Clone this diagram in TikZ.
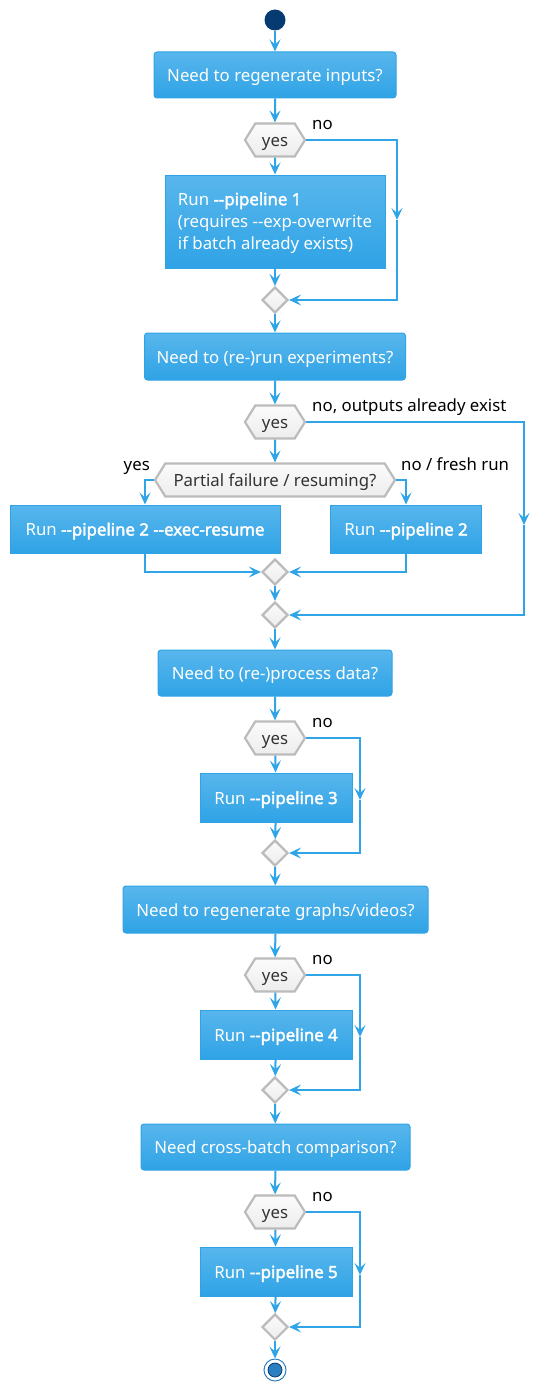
\documentclass[tikz,border=0pt]{standalone}
\usepackage{fontspec}
\setmainfont{Noto Sans}[Ligatures=TeXOff, AutoFakeBold=2.2]
\usetikzlibrary{arrows.meta,shapes.geometric,shapes.symbols}

\definecolor{flowblue}{HTML}{2FA4E7}
\definecolor{boxtop}{HTML}{58B6EC}
\definecolor{boxbot}{HTML}{2FA3E6}
\definecolor{hexline}{HTML}{BBBBBB}
\definecolor{hextop}{HTML}{FBFBFB}
\definecolor{hexbot}{HTML}{EDEDED}
\definecolor{startblue}{HTML}{053B70}
\definecolor{endblue}{HTML}{2C80C2}

\tikzset{
  flow/.style={draw=flowblue, line width=2pt, -{Stealth[length=12pt,width=11pt,inset=5pt]}},
  action/.style={draw=boxbot, line width=1pt, top color=boxtop, bottom color=boxbot,
    rounded corners=3pt, text=white, minimum height=46pt, inner sep=0pt,
    text height=13pt, text depth=0pt},
  runbox/.style={action, sharp corners},
  yesno/.style={signal, signal to=west and east, signal pointer angle=116,
    draw=hexline, line width=2.2pt, top color=hextop, bottom color=hexbot,
    text=black!80, minimum width=60pt, minimum height=33pt, inner sep=0pt,
    text height=13pt, text depth=0pt},
  merge/.style={diamond, draw=hexline, line width=2.2pt, top color=hextop,
    bottom color=hexbot, minimum size=26pt, inner sep=0pt},
  lbl/.style={text=black, inner sep=0pt},
}

\begin{document}
\begin{tikzpicture}[x=1pt, y=-1pt, font=\fontsize{16.8}{22}\selectfont]
    \useasboundingbox (0,0) rectangle (550,1394);

    % start
    \node[circle, fill=startblue, minimum size=21pt, inner sep=0pt] (start) at (275,20) {};

    % inputs
    \node[action, minimum width=242pt] (qin) at (275,75) {Need to regenerate inputs?};
    \node[yesno] (hin) at (275,140) {yes};
    \node[draw=boxbot, line width=1pt, top color=boxtop, bottom color=boxbot, text=white,
        inner sep=0pt, minimum width=220pt, minimum height=93pt, align=left] (run1) at (275,221.5)
        {\strut Run \textbf{--pipeline 1}\\(requires --exp-overwrite\\if batch already exists)};
    \node[merge] (m1) at (275,300) {};
    \coordinate (n1) at (397,220);
    \node[lbl, anchor=base west] (no1) at (312,129) {no};

    \draw[flow] (start) -- (qin);
    \draw[flow] (qin) -- (hin);
    \draw[flow] (hin) -- (run1);
    \draw[flow] (run1) -- (m1);
    \draw[flow] (hin.east) -| (n1);
    \draw[flow] (n1) |- (m1.east);

    % experiments
    \node[action, minimum width=261pt, minimum height=47pt] (qexp) at (275,356.5) {Need to (re-)run experiments?};
    \node[yesno] (hexp) at (275,422) {yes};
    \node[yesno, minimum width=240pt] (hpart) at (275,480) {Partial failure / resuming?};
    \node[runbox, minimum width=270pt, minimum height=48pt] (run2r) at (145,529) {Run \textbf{--pipeline 2 --exec-resume}};
    \node[runbox, minimum width=151pt, minimum height=48pt] (run2) at (406,529) {Run \textbf{--pipeline 2}};
    \node[merge] (m2a) at (275,572) {};
    \node[merge] (m2) at (275,615) {};
    \coordinate (n2) at (524,525);
    \node[lbl, anchor=base west] (no2) at (312,411) {no, outputs already exist};
    \node[lbl, anchor=base east] (yes2) at (150,470) {yes};
    \node[lbl, anchor=base west] (fresh) at (401,470) {no / fresh run};

    \draw[flow] (m1) -- (qexp);
    \draw[flow] (qexp) -- (hexp);
    \draw[flow] (hexp) -- (hpart);
    \draw[flow] (hpart.west) -| (run2r.north);
    \draw[flow] (hpart.east) -| (run2.north);
    \draw[flow] (run2r.south) |- (m2a.west);
    \draw[flow] (run2.south) |- (m2a.east);
    \draw[flow] (m2a) -- (m2);
    \draw[flow] (hexp.east) -| (n2);
    \draw[flow] (n2) |- (m2.east);

    % data
    \node[action, minimum width=234pt] (qproc) at (275,673) {Need to (re-)process data?};
    \node[yesno] (hproc) at (275,738) {yes};
    \node[runbox, minimum width=152pt, minimum height=49pt] (run3) at (276,797.5) {Run \textbf{--pipeline 3}};
    \node[merge] (m3) at (275,853) {};
    \coordinate (n3) at (360,800);
    \node[lbl, anchor=base west] (no3) at (312,727) {no};

    \draw[flow] (m2) -- (qproc);
    \draw[flow] (qproc) -- (hproc);
    \draw[flow] (hproc) -- (run3);
    \draw[flow] (run3) -- (m3);
    \draw[flow] (hproc.east) -| (n3);
    \draw[flow] (n3) |- (m3.east);

    % graphs
    \node[action, minimum width=305pt, minimum height=47pt] (qgr) at (275.5,909.5) {Need to regenerate graphs/videos?};
    \node[yesno] (hgr) at (275,975) {yes};
    \node[runbox, minimum width=152pt, minimum height=49pt] (run4) at (276,1034.5) {Run \textbf{--pipeline 4}};
    \node[merge] (m4) at (275,1090) {};
    \coordinate (n4) at (360,1037);
    \node[lbl, anchor=base west] (no4) at (312,964) {no};

    \draw[flow] (m3) -- (qgr);
    \draw[flow] (qgr) -- (hgr);
    \draw[flow] (hgr) -- (run4);
    \draw[flow] (run4) -- (m4);
    \draw[flow] (hgr.east) -| (n4);
    \draw[flow] (n4) |- (m4.east);

    % comparison
    \node[action, minimum width=269pt] (qcb) at (275.5,1147) {Need cross-batch comparison?};
    \node[yesno] (hcb) at (275,1212) {yes};
    \node[runbox, minimum width=152pt, minimum height=49pt] (run5) at (276,1271.5) {Run \textbf{--pipeline 5}};
    \node[merge] (m5) at (275,1327) {};
    \coordinate (n5) at (360,1275);
    \node[lbl, anchor=base west] (no5) at (312,1201) {no};

    \draw[flow] (m4) -- (qcb);
    \draw[flow] (qcb) -- (hcb);
    \draw[flow] (hcb) -- (run5);
    \draw[flow] (run5) -- (m5);
    \draw[flow] (hcb.east) -| (n5);
    \draw[flow] (n5) |- (m5.east);

    % end
    \node[circle, draw=endblue, line width=1pt, minimum size=22pt, inner sep=0pt] (stop) at (275,1370) {};
    \fill[endblue, draw=startblue, line width=0.8pt] (stop.center) circle (7pt);
    \draw[flow] (m5) -- (stop);
\end{tikzpicture}
\end{document}
